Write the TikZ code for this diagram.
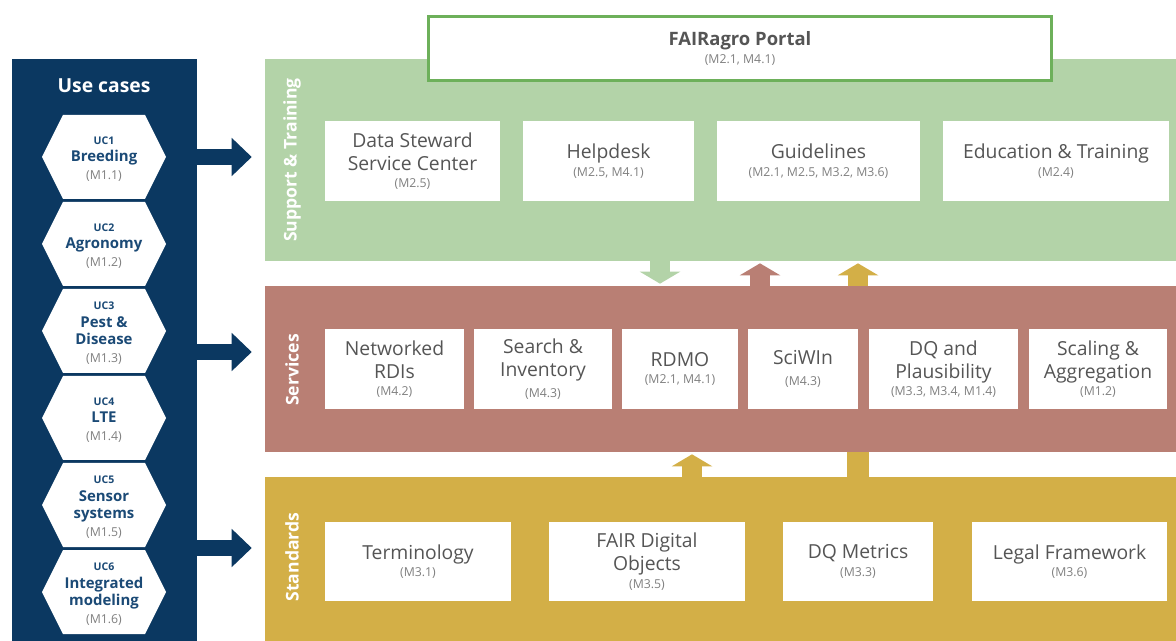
\documentclass[tikz,border=0pt]{standalone}
\usepackage{fontspec}
\setmainfont{Open Sans}
\usetikzlibrary{arrows.meta}

\definecolor{navy}{HTML}{0B3861}
\definecolor{casenavy}{HTML}{1B4A76}
\definecolor{supportgreen}{HTML}{B3D3A8}
\definecolor{portalgreen}{HTML}{6DB05A}
\definecolor{servicered}{HTML}{B97F74}
\definecolor{standardyellow}{HTML}{D3AF47}
\definecolor{boxgray}{HTML}{555555}
\definecolor{subgray}{HTML}{808080}

\newcommand{\mref}[1]{{\normalfont\color{subgray}\fontsize{7}{8}\selectfont #1}}

\tikzset{
    panel/.style={inner sep=0, minimum width=18.3cm},
    box/.style={fill=white, inner sep=0, align=center, text=boxgray,
        font=\fontsize{11}{13}\selectfont, minimum height=1.6cm},
    lane/.style={rotate=90, text=white, font=\bfseries\fontsize{10}{12}\selectfont},
    case/.style={align=center, text=casenavy, font=\bfseries\fontsize{8.5}{10}\selectfont},
    casearrow/.style={navy, line width=0.32cm,
        -{Triangle[width=0.74cm,length=0.4cm]}, shorten >=0.26cm},
    layerarrow/.style={line width=0.4cm,
        -{Triangle[width=0.8cm,length=0.24cm]}, shorten >=0.04cm}
}

\begin{document}
\begin{tikzpicture}[x=0.02cm, y=-0.02cm]
    \useasboundingbox[fill=white] (0,0) rectangle (1176,641);

    % use cases column
    \node[fill=navy, inner sep=0, minimum width=3.7cm, minimum height=11.72cm]
        (usecases) at (104.5,352) {};
    \node[text=white, font=\bfseries\fontsize{11}{13}\selectfont]
        (title) at (104,86) {Use cases};
    \foreach \n/\y/\name/\m in {1/157/Breeding/M1.1, 2/244/Agronomy/M1.2,
        3/331/{Pest \&\\Disease}/M1.3, 4/418/LTE/M1.4,
        5/505/{Sensor\\systems}/M1.5, 6/592/{Integrated\\modeling}/M1.6}{
        \fill[white] (42,\y) -- (63,\y-42) -- (145,\y-42) -- (166,\y)
            -- (145,\y+42) -- (63,\y+42) -- cycle;
        \node[case] (uc\n) at (104,\y+2)
            {{\fontsize{6}{8}\selectfont UC\n}\\\name\\\mref{(\m)}};
    }

    % layers
    \node[panel, fill=supportgreen, minimum height=4.04cm] (support) at (722.5,160) {};
    \node[panel, fill=servicered, minimum height=3.32cm] (services) at (722.5,369) {};
    \node[panel, fill=standardyellow, minimum height=3.36cm] (standards) at (722.5,561) {};
    \node[lane] (supportlabel) at (292,160) {Support \& Training};
    \node[lane] (serviceslabel) at (292,370) {Services};
    \node[lane] (standardslabel) at (292,557) {Standards};

    \node[fill=white, draw=portalgreen, line width=1.7pt, inner sep=0,
        minimum width=12.46cm, minimum height=1.28cm, align=center, text=boxgray]
        (portal) at (740,48.5)
        {{\bfseries\fontsize{10.5}{12}\selectfont FAIRagro Portal}\\[-2pt]\mref{(M2.1, M4.1)}};

    % support & training
    \node[box, minimum width=3.5cm] (steward) at (412.5,161)
        {Data Steward\\Service Center\\[-3pt]\mref{(M2.5)}};
    \node[box, minimum width=3.42cm] (helpdesk) at (608.5,161)
        {Helpdesk\\[-3pt]\mref{(M2.5, M4.1)}};
    \node[box, minimum width=4.06cm] (guidelines) at (818.5,161)
        {Guidelines\\[-3pt]\mref{(M2.1, M2.5, M3.2, M3.6)}};
    \node[box, minimum width=4.52cm] (education) at (1056,161)
        {Education \& Training\\[-3pt]\mref{(M2.4)}};

    % services
    \node[box, minimum width=2.78cm] (rdis) at (394.5,369)
        {Networked\\RDIs\\[-3pt]\mref{(M4.2)}};
    \node[box, minimum width=2.76cm] (search) at (543,369)
        {Search \&\\Inventory\\[-1pt]\mref{(M4.3)}};
    \node[box, minimum width=2.32cm] (rdmo) at (680,369)
        {RDMO\\[-3pt]\mref{(M2.1, M4.1)}};
    \node[box, minimum width=2.2cm] (sciwin) at (803,369)
        {SciWIn\\[-1pt]\mref{(M4.3)}};
    \node[box, minimum width=2.98cm] (plausibility) at (943.5,369)
        {DQ and\\Plausibility\\[-3pt]\mref{(M3.3, M3.4, M1.4)}};
    \node[box, minimum width=2.76cm] (scaling) at (1098,369)
        {Scaling \&\\Aggregation\\[-3pt]\mref{(M1.2)}};

    % standards
    \node[box, minimum width=3.72cm, minimum height=1.58cm] (terminology) at (418,561.5)
        {Terminology\\[-3pt]\mref{(M3.1)}};
    \node[box, minimum width=3.92cm, minimum height=1.58cm] (fdo) at (647,561.5)
        {FAIR Digital\\Objects\\[-3pt]\mref{(M3.5)}};
    \node[box, minimum width=3cm, minimum height=1.58cm] (metrics) at (858,561.5)
        {DQ Metrics\\[-3pt]\mref{(M3.3)}};
    \node[box, minimum width=3.9cm, minimum height=1.58cm] (legal) at (1069.5,561.5)
        {Legal Framework\\[-3pt]\mref{(M3.6)}};

    % arrows from the use cases
    \draw[casearrow] (usecases.east |- 0,157) -- (support.west |- 0,157);
    \draw[casearrow] (usecases.east |- 0,352) -- (services.west |- 0,352);
    \draw[casearrow] (usecases.east |- 0,548) -- (standards.west |- 0,548);

    % arrows between layers
    \draw[layerarrow, supportgreen] (support.south -| 660,0) -- (services.north -| 660,0);
    \draw[layerarrow, servicered] (services.north -| 760,0) -- (support.south -| 760,0);
    \draw[layerarrow, standardyellow] (services.north -| 858,0) -- (support.south -| 858,0);
    \draw[layerarrow, standardyellow] (standards.north -| 692,0) -- (services.south -| 692,0);
    \draw[standardyellow, line width=0.44cm] (standards.north -| 858,0) -- (services.south -| 858,0);
\end{tikzpicture}
\end{document}
